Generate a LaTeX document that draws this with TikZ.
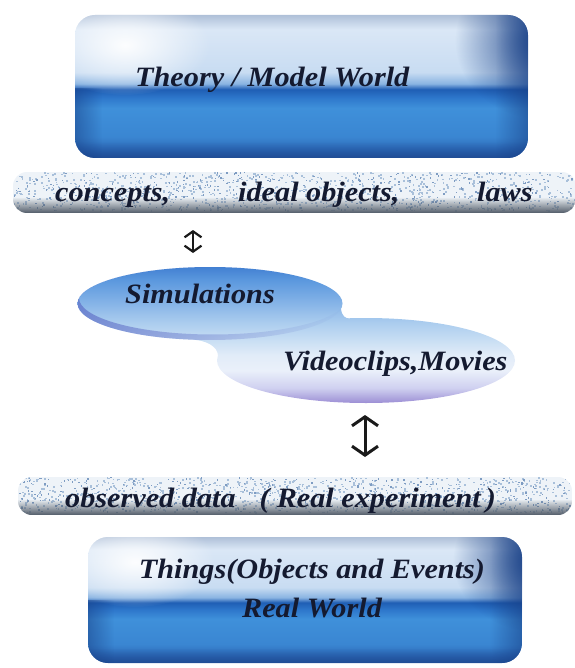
\documentclass[tikz,border=0pt]{standalone}
\usepackage{fontspec}
\newfontfamily\tnr[FakeStretch=1.08]{Liberation Serif}
\usetikzlibrary{arrows.meta,fadings}
\tikzfading[name=fadeupx, top color=transparent!100, bottom color=transparent!0]
\tikzfading[name=fadedownx, top color=transparent!0, bottom color=transparent!100]
\tikzfading[name=faderightx, left color=transparent!0, right color=transparent!100]
\tikzfading[name=fadeleftx, left color=transparent!100, right color=transparent!0]
\tikzfading[name=glowx, inner color=transparent!0, outer color=transparent!100]
\definecolor{txtc}{HTML}{141A30}
\definecolor{boxdark}{HTML}{173F86}
\definecolor{bandbase}{HTML}{EEF3F8}
\definecolor{speckA}{HTML}{A9C0DA}
\definecolor{speckB}{HTML}{7E9CC2}
\definecolor{bandshadow}{HTML}{525C68}
\definecolor{rimc}{HTML}{5A68C4}
\definecolor{arrowc}{HTML}{1A1A1A}
\definecolor{bxa}{HTML}{2A5CA6}
\definecolor{bxb}{HTML}{2C68B6}
\definecolor{bxc}{HTML}{3A86D2}
\definecolor{bxd}{HTML}{3F90DA}
\definecolor{bxe}{HTML}{2E78CC}
\definecolor{bxf}{HTML}{1F5EB4}
\definecolor{bxg}{HTML}{8AB4E2}
\definecolor{bxh}{HTML}{C8DCF2}
\definecolor{bxi}{HTML}{DAE7F6}
\definecolor{bxj}{HTML}{AFC0D8}
\definecolor{ela}{HTML}{9C8ED4}
\definecolor{elb}{HTML}{CFD0F0}
\definecolor{elc}{HTML}{EAF0FA}
\definecolor{eld}{HTML}{E2ECF8}
\definecolor{ele}{HTML}{C4DCF3}
\definecolor{elf}{HTML}{A9CBEE}
\definecolor{elg}{HTML}{80B0E6}
\definecolor{elh}{HTML}{5B98DE}
\definecolor{eli}{HTML}{4280D2}
\pgfdeclareverticalshading{boxshade}{100bp}{
 color(0bp)=(bxa); color(25bp)=(bxa);
 color(27.5bp)=(bxb); color(32.5bp)=(bxc);
 color(42.5bp)=(bxd); color(46bp)=(bxe);
 color(49bp)=(bxf); color(51bp)=(bxg);
 color(55bp)=(bxh); color(70bp)=(bxi);
 color(75bp)=(bxj); color(100bp)=(bxj)}
\pgfdeclareverticalshading{ellshade}{100bp}{
 color(0bp)=(ela); color(25bp)=(ela);
 color(30.5bp)=(elb); color(37bp)=(elc);
 color(42.5bp)=(eld); color(49bp)=(ele);
 color(55bp)=(elf); color(62.8bp)=(elg);
 color(70.2bp)=(elh); color(75bp)=(eli); color(100bp)=(eli)}
\begin{document}
\begin{tikzpicture}[x=1pt,y=-1pt,
  lbl/.style={font=\tnr\bfseries\itshape\fontsize{28}{39}\selectfont, text=txtc, inner sep=0pt},
  dblarrow/.style={line width=#1, draw=arrowc},
  dblarrow/.default=2pt]
\useasboundingbox (0,0) rectangle (574,668);

% ---------- top box ----------
\begin{scope}
\clip[rounded corners=20] (75,15) rectangle (528,158);
\shade[shading=boxshade] (75,15) rectangle (528,158);
\fill[white, path fading=glowx, opacity=.95] (125,45) ellipse (85 and 50);
\fill[boxdark, path fading=glowx] (545,40) ellipse (90 and 80);
\fill[boxdark, path fading=fadeleftx, opacity=.55] (495,15) rectangle (528,158);
\fill[boxdark, path fading=faderightx, opacity=.5] (75,88) rectangle (102,158);
\fill[boxdark, path fading=fadeupx, opacity=.55] (75,142) rectangle (528,158);
\end{scope}
\node[lbl, anchor=base west] (theory) at (135,87) {Theory / Model World};

% ---------- band 1 ----------
\begin{scope}
\clip[rounded corners=14] (13,172) rectangle (576,213);
\fill[bandbase] (13,172) rectangle (576,213);
\pgfmathsetseed{7}
\foreach \i in {1,...,900}{\fill[speckA] ({13+563*rnd},{172+38*rnd}) rectangle ++(1.8,1.6);}
\foreach \i in {1,...,350}{\fill[speckB] ({13+563*rnd},{172+38*rnd}) rectangle ++(1.4,1.4);}
\fill[bandshadow, path fading=fadeupx] (13,197) rectangle (576,213);
\end{scope}
\node[lbl, anchor=base west] (concepts) at (55,202) {concepts,};
\node[lbl, anchor=base west] (ideal) at (238,202) {ideal objects,};
\node[lbl, anchor=base west] (laws) at (477,202) {laws};

% ---------- ellipses ----------
\begin{scope}
\clip (210,303.5) ellipse (132.5 and 36.5)
      (366,360.5) ellipse (149 and 42.5)
      (341,309) .. controls (342,316) and (345,318.5) .. (350,318.5)
      -- (300,345) -- (218,356) .. controls (218,346) and (205,339.6) .. (190,339.6) -- cycle;
\shade[shading=ellshade] (76,267) rectangle (516,403);
\begin{scope}
\clip (210,303.5) ellipse (132.5 and 36.5);
\fill[rimc, even odd rule, path fading=faderightx, opacity=.65]
  (210,303.5) ellipse (132.5 and 36.5) (213,298) ellipse (134 and 36.5);
\end{scope}
\end{scope}
\node[lbl, anchor=base west] (sim) at (125,303) {Simulations};
\node[lbl, anchor=base west] (video) at (283,370) {Videoclips,Movies};

% ---------- arrows ----------
\coordinate (a1t) at (193,230);
\coordinate (a1b) at (193,253);
\draw[dblarrow=2.2pt, {Straight Barb[length=6pt,width=17pt]}-{Straight Barb[length=6pt,width=17pt]}] (a1t) -- (a1b);
\coordinate (a2t) at (365,415);
\coordinate (a2b) at (365,457);
\draw[dblarrow=3pt, {Straight Barb[length=9pt,width=26pt]}-{Straight Barb[length=9pt,width=26pt]}] (a2t) -- (a2b);

% ---------- band 2 ----------
\begin{scope}
\clip[rounded corners=14] (18,477) rectangle (572,515);
\fill[bandbase] (18,477) rectangle (572,515);
\pgfmathsetseed{11}
\foreach \i in {1,...,900}{\fill[speckA] ({18+554*rnd},{477+35*rnd}) rectangle ++(1.8,1.6);}
\foreach \i in {1,...,350}{\fill[speckB] ({18+554*rnd},{477+35*rnd}) rectangle ++(1.4,1.4);}
\fill[bandshadow, path fading=fadeupx] (18,499) rectangle (572,515);
\end{scope}
\node[lbl, anchor=base west] (observed) at (65,507) {observed data\hspace{24pt}(\hspace{7pt}Real experiment\hspace{5pt})};

% ---------- bottom box ----------
\begin{scope}
\clip[rounded corners=20] (88,537) rectangle (522,663);
\shade[shading=boxshade] (88,537) rectangle (522,663);
\fill[white, path fading=glowx, opacity=.95] (135,562) ellipse (80 and 45);
\fill[boxdark, path fading=glowx] (538,560) ellipse (85 and 72);
\fill[boxdark, path fading=fadeleftx, opacity=.55] (490,537) rectangle (522,663);
\fill[boxdark, path fading=faderightx, opacity=.5] (88,600) rectangle (114,663);
\fill[boxdark, path fading=fadeupx, opacity=.55] (88,648) rectangle (522,663);
\end{scope}
\node[lbl, align=center, anchor=base] (things) at (312,617) {Things(Objects and Events)\\Real World};
\end{tikzpicture}
\end{document}
